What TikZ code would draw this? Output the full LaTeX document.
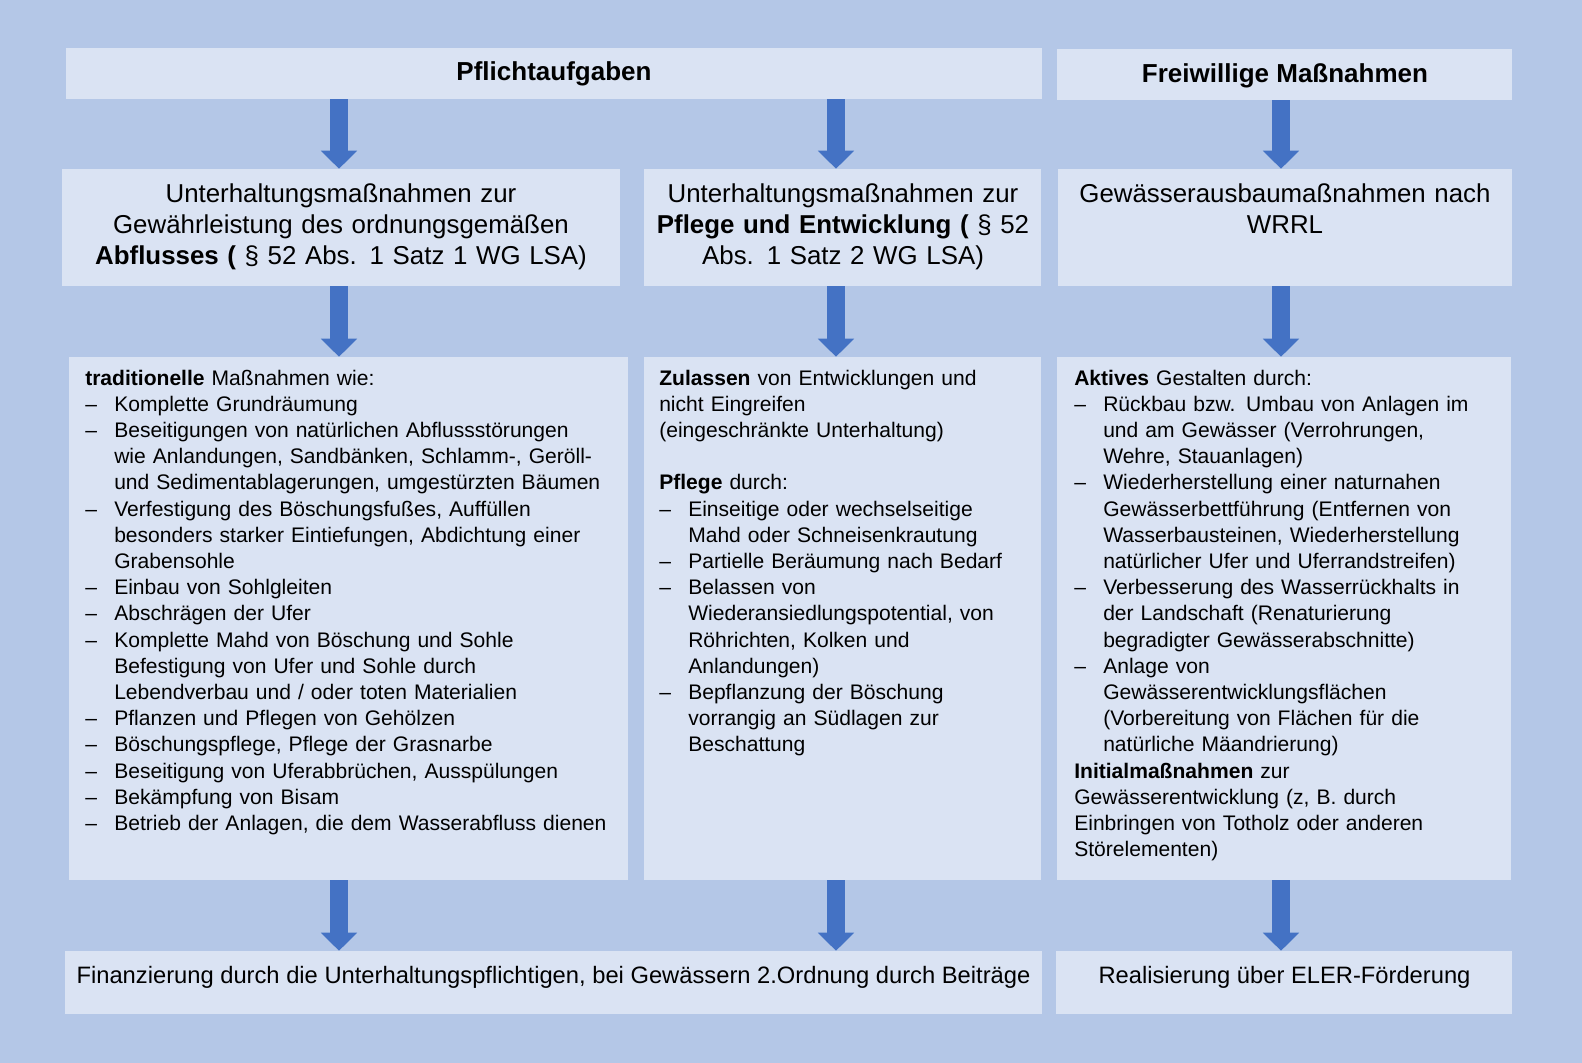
\documentclass[tikz,border=0pt]{standalone}
\usepackage{fontspec}
\setmainfont{Liberation Sans}
\usetikzlibrary{arrows.meta,fit}
\definecolor{hgrund}{HTML}{B4C7E7}
\definecolor{kastenfarbe}{HTML}{DAE3F3}
\definecolor{pfeilblau}{HTML}{4472C4}
\newcommand{\titel}{\fontsize{19.5}{23.5}\selectfont\bfseries}
\newcommand{\mittel}{\fontsize{19.4}{23.5}\selectfont}
\newcommand{\klein}{\fontsize{15.8}{19.65}\selectfont}
\newcommand{\unten}{\fontsize{17.8}{21}\selectfont}
\newcommand{\sd}{\makebox[21.75pt][l]{–}}
\newcommand{\si}{\hspace*{21.75pt}}
\tikzset{
  kasten/.style={fill=kastenfarbe, inner sep=0pt},
  pfeil/.style={draw=pfeilblau, line width=13.2pt, -{Triangle[width=26.5pt,length=13.5pt]}},
  spalte/.style={anchor=base west, font=\klein, align=left, inner sep=0pt}
}
\begin{document}
\begin{tikzpicture}[x=0.75pt,y=-0.75pt]
    \fill[hgrund] (0,0) rectangle (1582,1063);
    \useasboundingbox (0,0) rectangle (1582,1063);
    % Spalten der Pfeile
    \coordinate (c1) at (339,0);
    \coordinate (c2) at (836,0);
    \coordinate (c3) at (1281,0);
    % Kopfzeile
    \node[kasten, fit={(66,48) (1042,99)}] (pflicht) {};
    \node[kasten, fit={(1057,49) (1512,100)}] (frei) {};
    % zweite Reihe
    \node[kasten, fit={(62,169) (620,286)}] (r2a) {};
    \node[kasten, fit={(644,169) (1041,286)}] (r2b) {};
    \node[kasten, fit={(1058,169) (1512,286)}] (r2c) {};
    % dritte Reihe
    \node[kasten, fit={(69,357) (628,880)}] (r3a) {};
    \node[kasten, fit={(644,357) (1041,880)}] (r3b) {};
    \node[kasten, fit={(1057,357) (1511,880)}] (r3c) {};
    % Fusszeile
    \node[kasten, fit={(65,951) (1042,1014)}] (fin) {};
    \node[kasten, fit={(1056,951) (1512,1014)}] (eler) {};

    \node[anchor=base, font=\titel] (t-pflicht) at (554,81) {Pflichtaufgaben};
    \node[anchor=base, font=\titel] (t-frei) at (1285,83) {Freiwillige Maßnahmen};

    \node[anchor=base, font=\mittel, text width=410pt, align=center] (t2a) at (341,202)
        {Unterhaltungsmaßnahmen zur\\Gewährleistung des ordnungsgemäßen\\\textbf{Abflusses (} § 52 Abs. 1 Satz 1 WG LSA)};
    \node[anchor=base, font=\mittel, text width=300pt, align=center] (t2b) at (843,202)
        {Unterhaltungsmaßnahmen zur\\\textbf{Pflege und Entwicklung (} § 52\\Abs. 1 Satz 2 WG LSA)};
    \node[anchor=base, font=\mittel, text width=335pt, align=center] (t2c) at (1285,202)
        {Gewässerausbaumaßnahmen nach\\WRRL};

    \node[spalte, text width=410pt] (t3a) at (85,385) {%
        \textbf{traditionelle} Maßnahmen wie:\\
        \sd Komplette Grundräumung\\
        \sd Beseitigungen von natürlichen Abflussstörungen\\
        \si wie Anlandungen, Sandbänken, Schlamm-, Geröll-\\
        \si und Sedimentablagerungen, umgestürzten Bäumen\\
        \sd Verfestigung des Böschungsfußes, Auffüllen\\
        \si besonders starker Eintiefungen, Abdichtung einer\\
        \si Grabensohle\\
        \sd Einbau von Sohlgleiten\\
        \sd Abschrägen der Ufer\\
        \sd Komplette Mahd von Böschung und Sohle\\
        \si Befestigung von Ufer und Sohle durch\\
        \si Lebendverbau und / oder toten Materialien\\
        \sd Pflanzen und Pflegen von Gehölzen\\
        \sd Böschungspflege, Pflege der Grasnarbe\\
        \sd Beseitigung von Uferabbrüchen, Ausspülungen\\
        \sd Bekämpfung von Bisam\\
        \sd Betrieb der Anlagen, die dem Wasserabfluss dienen};
    \node[spalte, text width=290pt] (t3b) at (659,385) {%
        \textbf{Zulassen} von Entwicklungen und\\
        nicht Eingreifen\\
        (eingeschränkte Unterhaltung)\\
        \mbox{}\\
        \textbf{Pflege} durch:\\
        \sd Einseitige oder wechselseitige\\
        \si Mahd oder Schneisenkrautung\\
        \sd Partielle Beräumung nach Bedarf\\
        \sd Belassen von\\
        \si Wiederansiedlungspotential, von\\
        \si Röhrichten, Kolken und\\
        \si Anlandungen)\\
        \sd Bepflanzung der Böschung\\
        \si vorrangig an Südlagen zur\\
        \si Beschattung};
    \node[spalte, text width=330pt] (t3c) at (1074,385) {%
        \textbf{Aktives} Gestalten durch:\\
        \sd Rückbau bzw. Umbau von Anlagen im\\
        \si und am Gewässer (Verrohrungen,\\
        \si Wehre, Stauanlagen)\\
        \sd Wiederherstellung einer naturnahen\\
        \si Gewässerbettführung (Entfernen von\\
        \si Wasserbausteinen, Wiederherstellung\\
        \si natürlicher Ufer und Uferrandstreifen)\\
        \sd Verbesserung des Wasserrückhalts in\\
        \si der Landschaft (Renaturierung\\
        \si begradigter Gewässerabschnitte)\\
        \sd Anlage von\\
        \si Gewässerentwicklungsflächen\\
        \si (Vorbereitung von Flächen für die\\
        \si natürliche Mäandrierung)\\
        \textbf{Initialmaßnahmen} zur\\
        Gewässerentwicklung (z, B. durch\\
        Einbringen von Totholz oder anderen\\
        Störelementen)};

    \node[anchor=base, font=\unten] (t4a) at (553.5,983)
        {Finanzierung durch die Unterhaltungspflichtigen, bei Gewässern 2.Ordnung durch Beiträge};
    \node[anchor=base, font=\unten] (t4b) at (1284.5,983) {Realisierung über ELER-Förderung};

    % Pfeile
    \draw[pfeil] (pflicht.south -| c1) -- (r2a.north -| c1);
    \draw[pfeil] (pflicht.south -| c2) -- (r2b.north -| c2);
    \draw[pfeil] (frei.south -| c3) -- (r2c.north -| c3);
    \draw[pfeil] (r2a.south -| c1) -- (r3a.north -| c1);
    \draw[pfeil] (r2b.south -| c2) -- (r3b.north -| c2);
    \draw[pfeil] (r2c.south -| c3) -- (r3c.north -| c3);
    \draw[pfeil] (r3a.south -| c1) -- (fin.north -| c1);
    \draw[pfeil] (r3b.south -| c2) -- (fin.north -| c2);
    \draw[pfeil] (r3c.south -| c3) -- (eler.north -| c3);
\end{tikzpicture}
\end{document}
